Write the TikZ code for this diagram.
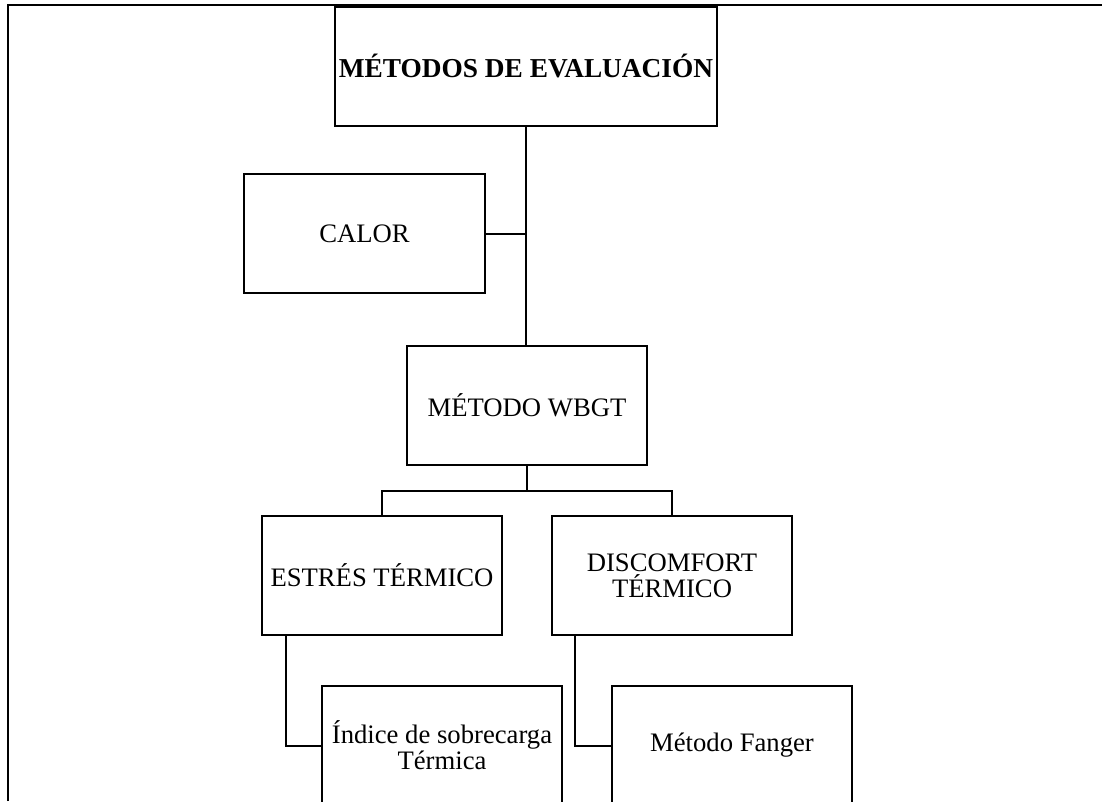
\documentclass[tikz,border=0pt]{standalone}
\usepackage{fontspec}
\setmainfont{Liberation Serif}
\usetikzlibrary{calc}
\begin{document}
\begin{tikzpicture}[x=0.75pt,y=-0.75pt,
  line width=1.5pt,
  box/.style={draw=black, line width=1.5pt, minimum width=180pt, minimum height=89.25pt,
    inner sep=2pt, align=center, font=\fontsize{20}{19.5}\selectfont},
  conn/.style={draw=black, line width=1.5pt}]
\useasboundingbox (0,0) rectangle (1102,801);
\draw[line width=1.5pt] (8,801) -- (8,5) -- (1102,5);
\node[box, minimum width=286.5pt, font=\fontsize{20.5}{19.5}\selectfont\bfseries] (top) at (526,66) {MÉTODOS DE EVALUACIÓN};
\node[box, minimum width=180.75pt] (calor) at (364.5,233.5) {CALOR};
\node[box] (wbgt) at (527,405) {MÉTODO WBGT};
\node[box] (estres) at (382,575.5) {ESTRÉS TÉRMICO};
\node[box] (disc) at (672,575.5) {DISCOMFORT\\TÉRMICO};
\node[box] (indice) at (442,745.5) {Índice de sobrecarga\\Térmica};
\node[box] (fanger) at (732,745.5) {Método Fanger};
\coordinate (bus) at (527,490.5);
\draw[conn] (top.south) -- (top.south |- wbgt.north);
\draw[conn] (calor.east) -- (calor.east -| top.south);
\draw[conn] (wbgt.south) -- (bus);
\draw[conn] (estres.north) |- (bus) -| (disc.north);
\draw[conn] ($(estres.south west)+(25,0)$) |- (indice.west);
\draw[conn] ($(disc.south west)+(24,0)$) |- (fanger.west);
\end{tikzpicture}
\end{document}
